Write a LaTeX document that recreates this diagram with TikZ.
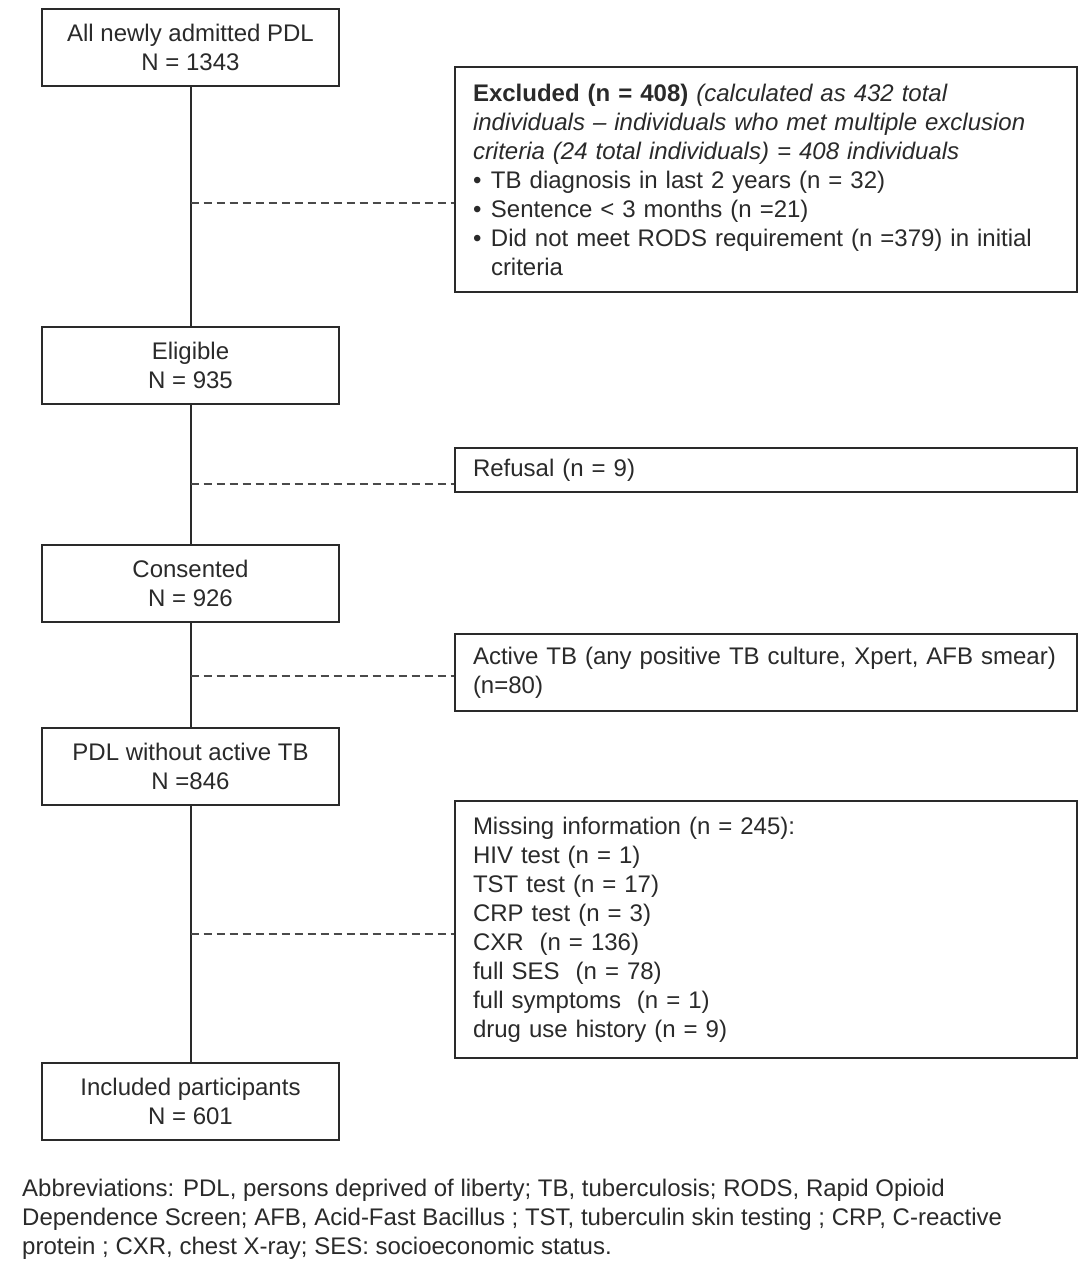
\documentclass[tikz,border=0pt]{standalone}
\usepackage{fontspec}
\setmainfont{Liberation Sans}
\begin{document}
\begin{tikzpicture}[x=1pt,y=-1pt,
  every node/.style={text=ink},
  mainbox/.style={draw=ink, line width=2pt, minimum width=297pt, minimum height=77pt, align=center, inner sep=0pt, font=\fontsize{24}{29}\selectfont},
  sidebox/.style={draw=ink, line width=2pt, text width=586pt, inner xsep=18pt, inner ysep=0pt, align=left, font=\fontsize{24}{29}\selectfont},
  flow/.style={draw=ink, line width=2pt},
  side/.style={draw=ink!85, line width=1.3pt, dash pattern=on 8pt off 5pt}]
\definecolor{ink}{HTML}{2A2A2A}
\useasboundingbox (0,0) rectangle (1090,1280);
\fill[white] (0,0) rectangle (1090,1280);

\node[mainbox] (b1) at (190.5,47.5) {All newly admitted PDL\\N = 1343};
\node[mainbox] (b2) at (190.5,365.5) {Eligible\\N = 935};
\node[mainbox] (b3) at (190.5,583.5) {Consented\\N = 926};
\node[mainbox] (b4) at (190.5,766.5) {PDL without active TB\\N =846};
\node[mainbox] (b5) at (190.5,1101.5) {Included participants\\N = 601};

\node[sidebox, minimum height=225pt] (ex) at (766,179.5) {\textbf{Excluded (n = 408)} \textit{(calculated as 432 total}\\
\textit{individuals – individuals who met multiple exclusion}\\
\textit{criteria (24 total individuals) = 408 individuals}\\
\makebox[18pt][l]{•}TB diagnosis in last 2 years (n = 32)\\
\makebox[18pt][l]{•}Sentence < 3 months (n =21)\\
\makebox[18pt][l]{•}Did not meet RODS requirement (n =379) in initial\\
\hspace*{18pt}criteria};
\node[sidebox, minimum height=44pt] (rf) at (766,470) {Refusal (n = 9)};
\node[sidebox, minimum height=77pt] (at) at (766,672.5) {Active TB (any positive TB culture, Xpert, AFB smear)\\(n=80)};
\node[sidebox, minimum height=257pt] (mi) at (766,929.5) {Missing information (n = 245):\\
HIV test (n = 1)\\
TST test (n = 17)\\
CRP test (n = 3)\\
CXR \ (n = 136)\\
full SES \ (n = 78)\\
full symptoms \ (n = 1)\\
drug use history (n = 9)};

\draw[flow] (b1) -- (b2);
\draw[flow] (b2) -- (b3);
\draw[flow] (b3) -- (b4);
\draw[flow] (b4) -- (b5);

\coordinate (d1) at (190.5,203);
\coordinate (d2) at (190.5,484);
\coordinate (d3) at (190.5,676);
\coordinate (d4) at (190.5,934);
\draw[side] (d1) -- (d1 -| ex.west);
\draw[side] (d2) -- (d2 -| rf.west);
\draw[side] (d3) -- (d3 -| at.west);
\draw[side] (d4) -- (d4 -| mi.west);

\node[anchor=west, align=left, inner sep=0pt, font=\fontsize{24}{29}\selectfont] (ab) at (22,1219) {Abbreviations: PDL, persons deprived of liberty; TB, tuberculosis; RODS, Rapid Opioid\\
Dependence Screen; AFB, Acid-Fast Bacillus ; TST, tuberculin skin testing ; CRP, C-reactive\\
protein ; CXR, chest X-ray; SES: socioeconomic status.};
\end{tikzpicture}
\end{document}
